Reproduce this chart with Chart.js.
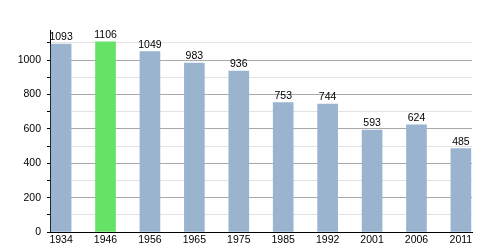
<!DOCTYPE html>
<html><head><meta charset="utf-8">
<script src="https://cdn.jsdelivr.net/npm/chart.js@4.4.0/dist/chart.umd.min.js"></script>
<style>html,body{margin:0;padding:0;background:#fff}#w{width:500px;height:250px}</style>
</head><body><div id="w"><canvas id="c"></canvas></div>
<script>
const years = ['1934','1946','1956','1965','1975','1985','1992','2001','2006','2011'];
const population = [1093,1106,1049,983,936,753,744,593,624,485];
const barColors = ['#9ab4d0','#66e266','#9ab4d0','#9ab4d0','#9ab4d0','#9ab4d0','#9ab4d0','#9ab4d0','#9ab4d0','#9ab4d0'];
const yTickStep = 50;
const yLabelStep = 200;
const yMax = 1175;

const FONT = {family:'"Liberation Sans", Arial, sans-serif', size:10.5};

const valueLabels = {
  id:'valueLabels',
  afterDatasetsDraw(chart){
    const ctx = chart.ctx;
    const meta = chart.getDatasetMeta(0);
    ctx.save();
    ctx.font = '10.5px "Liberation Sans", Arial, sans-serif';
    ctx.fillStyle = '#000';
    ctx.textAlign = 'center';
    ctx.textBaseline = 'alphabetic';
    meta.data.forEach((bar,i)=>{
      ctx.fillText(String(population[i]), bar.x, bar.y - 4);
    });
    ctx.restore();
  }
};

new Chart(document.getElementById('c'), {
  type:'bar',
  data:{
    datasets:[{
      data: population.map((v,i)=>({x:i,y:v})),
      backgroundColor: barColors,
      borderWidth:0,
      barThickness:20
    }]
  },
  options:{
    responsive:true,
    maintainAspectRatio:false,
    animation:false,
    layout:{padding:{top:30,right:28,left:0,bottom:0}},
    plugins:{legend:{display:false},tooltip:{enabled:false}},
    scales:{
      x:{
        type:'linear',
        offset:false,
        min:-0.25,
        max:9.25,
        afterBuildTicks(s){ s.ticks = years.map((y,i)=>({value:i})); },
        afterFit(s){ s.height = 18; },
        ticks:{
          autoSkip:false,
          maxRotation:0,
          padding:2,
          color:'#000',
          font:FONT,
          callback:(v)=>years[v]
        },
        grid:{display:true,drawOnChartArea:false,drawTicks:false,color:'rgba(0,0,0,0)'},
        border:{display:true,color:'#000',width:1}
      },
      y:{
        min:0,
        max:yMax,
        afterBuildTicks(s){
          const t=[];
          for(let v=0; v<=yMax; v+=yTickStep) t.push({value:v});
          s.ticks=t;
        },
        afterFit(s){ s.width = 50; },
        ticks:{
          color:'#000',
          font:FONT,
          padding:6,
          callback:(v)=> (v % yLabelStep === 0 ? String(v) : '')
        },
        grid:{
          color:(c)=> (c.tick && c.tick.value % yLabelStep === 0 ? '#a8a8a8' : '#e2e2e2'),
          tickColor:'#000',
          tickLength:3,
          lineWidth:1
        },
        border:{display:true,color:'#000',width:1}
      }
    }
  },
  plugins:[valueLabels]
});
</script>
</body></html>
